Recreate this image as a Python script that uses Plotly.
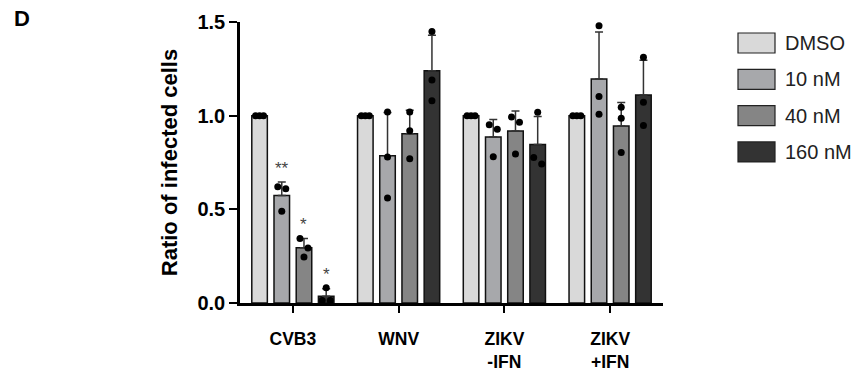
import numpy as np
import plotly.graph_objects as go

# ---------------- data ----------------
groups = ["CVB3", "WNV", "ZIKV<br>-IFN", "ZIKV<br>+IFN"]
series_names = ["DMSO", "10 nM", "40 nM", "160 nM"]

dmso_reps = [[1.0, 1.0, 1.0], [1.0, 1.0, 1.0], [1.0, 1.0, 1.0], [1.0, 1.0, 1.0]]
nm10_reps = [[0.62, 0.61, 0.49], [1.02, 0.78, 0.56], [0.952, 0.927, 0.781], [1.48, 1.102, 1.007]]
nm40_reps = [[0.344, 0.294, 0.246], [1.02, 0.92, 0.77], [0.993, 0.965, 0.795], [1.045, 0.986, 0.804]]
nm160_reps = [[0.082, 0.013, 0.013], [1.449, 1.191, 1.080], [1.018, 0.742, 0.777], [1.312, 1.072, 0.947]]

dmso_sig = ["", "", "", ""]
nm10_sig = ["**", "", "", ""]
nm40_sig = ["*", "", "", ""]
nm160_sig = ["*", "", "", ""]

y_tick_vals = [0.0, 0.5, 1.0, 1.5]
y_tick_text = ["0.0", "0.5", "1.0", "1.5"]

# ---------------- styling ----------------
all_reps = [dmso_reps, nm10_reps, nm40_reps, nm160_reps]
all_sig = [dmso_sig, nm10_sig, nm40_sig, nm160_sig]
colors = ["#d9d9d9", "#a7a8ab", "#858585", "#333333"]
FONT = "Liberation Sans, Arial, Helvetica, sans-serif"

W, H = 863, 373
ML, MR, MT, MB = 240, 200, 22, 70
plot_w = W - ML - MR
plot_h = H - MT - MB
n_groups = len(groups)
n_series = len(series_names)
bargap, bargroupgap = 0.16, 0.30
slot = (1 - bargap) / n_series
px_per_unit = plot_w / n_groups


def swarm_offsets(vals, thresh=0.055):
    vals = np.asarray(vals, float)
    order = np.argsort(-vals, kind="stable")
    clusters = []
    for idx in order:
        if clusters and abs(vals[clusters[-1][0]] - vals[idx]) < thresh:
            clusters[-1].append(idx)
        else:
            clusters.append([idx])
    offs = np.zeros(len(vals))
    for c in clusters:
        k = len(c)
        step = 8.0 if k == 2 else 4.0
        for j, idx in enumerate(c):
            offs[idx] = (j - (k - 1) / 2) * step
    return offs / px_per_unit


fig = go.Figure()
gx = np.arange(n_groups)
annotations = []

for si, (name, reps, col, sig) in enumerate(zip(series_names, all_reps, colors, all_sig)):
    arr = [np.asarray(r, float) for r in reps]
    means = [a.mean() for a in arr]
    sds = [a.std(ddof=1) for a in arr]
    fig.add_trace(go.Bar(
        x=gx, y=means, name=name,
        marker=dict(color=col, line=dict(color="#111111", width=1.5)),
        error_y=dict(type="data", symmetric=False, array=sds,
                     arrayminus=[0] * n_groups, color="#333333",
                     thickness=1.5, width=4),
        showlegend=False,
    ))
    center_off = (si - (n_series - 1) / 2) * slot
    xs, ys = [], []
    for gi, a in enumerate(arr):
        offs = swarm_offsets(a)
        for v, o in zip(a, offs):
            xs.append(gi + center_off + o)
            ys.append(v)
    fig.add_trace(go.Scatter(
        x=xs, y=ys, mode="markers",
        marker=dict(color="#000000", size=7),
        showlegend=False, cliponaxis=False,
    ))
    for gi, s in enumerate(sig):
        if s:
            annotations.append(dict(
                x=gi + center_off, y=means[gi] + sds[gi], xref="x", yref="y",
                text=s, showarrow=False, yanchor="middle", yshift=14,
                font=dict(family=FONT, size=17, color="#444444"),
            ))

# custom legend (large swatches)
leg_x0, leg_x1, leg_text_x = 738, 775, 783
leg_y0, leg_dy, box_h = 43, 36.3, 20
shapes = []
for si, (name, col) in enumerate(zip(series_names, colors)):
    cy = leg_y0 + si * leg_dy
    shapes.append(dict(
        type="rect", xref="paper", yref="paper",
        x0=(leg_x0 - ML) / plot_w, x1=(leg_x1 - ML) / plot_w,
        y0=(H - MB - (cy + box_h / 2)) / plot_h, y1=(H - MB - (cy - box_h / 2)) / plot_h,
        fillcolor=col, line=dict(color="#222222", width=1.2),
    ))
    annotations.append(dict(
        x=(leg_text_x - ML) / plot_w, y=(H - MB - cy) / plot_h,
        xref="paper", yref="paper", xanchor="left", yanchor="middle",
        text=name, showarrow=False,
        font=dict(family=FONT, size=20, color="#222222"),
    ))

# panel letter
annotations.append(dict(
    x=(12 - ML) / plot_w, y=(H - MB - 18) / plot_h, xref="paper", yref="paper",
    xanchor="left", yanchor="middle", text="<b>D</b>", showarrow=False,
    font=dict(family=FONT, size=22, color="#000000"),
))

fig.update_layout(
    width=W, height=H,
    margin=dict(l=ML, r=MR, t=MT, b=MB, pad=0, autoexpand=False),
    paper_bgcolor="white", plot_bgcolor="white",
    barmode="group", bargap=bargap, bargroupgap=bargroupgap,
    showlegend=False,
    annotations=annotations, shapes=shapes,
    font=dict(family=FONT, color="#000000"),
)
fig.update_xaxes(
    range=[-0.5, n_groups - 0.5], tickmode="array", tickvals=list(gx),
    ticktext=[f"<b>{g}</b>" for g in groups],
    showline=True, linecolor="#000000", linewidth=2.5,
    ticks="outside", ticklen=7, tickwidth=2, tickcolor="#000000",
    tickfont=dict(family=FONT, size=17.5, color="#000000"),
    ticklabelstandoff=11, automargin=False,
    showgrid=False, zeroline=False, fixedrange=True,
)
fig.update_yaxes(
    range=[0, 1.5], tickmode="array", tickvals=y_tick_vals,
    ticktext=[f"<b>{t}</b>" for t in y_tick_text],
    showline=True, linecolor="#000000", linewidth=2.5,
    ticks="outside", ticklen=8, tickwidth=2, tickcolor="#000000",
    tickfont=dict(family=FONT, size=20, color="#000000"),
    title=dict(text="<b>Ratio of infected cells</b>", standoff=14,
               font=dict(family=FONT, size=22, color="#000000")),
    automargin=False,
    showgrid=False, zeroline=False, fixedrange=True,
)

fig.write_html("out.html", config={"displayModeBar": False},
               post_script="document.body.style.margin='0';document.body.style.overflow='hidden';")
